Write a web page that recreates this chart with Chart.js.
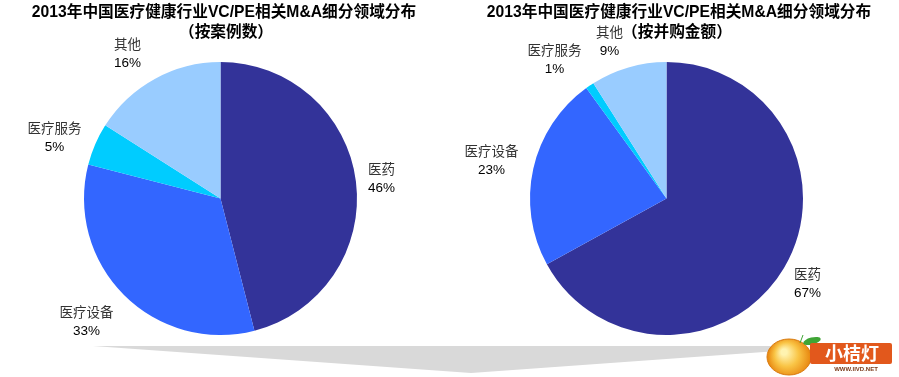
<!DOCTYPE html>
<html>
<head>
<meta charset="utf-8">
<script src="https://cdn.jsdelivr.net/npm/chart.js@4.4.0/dist/chart.umd.min.js"></script>
<style>
  html, body { margin: 0; padding: 0; background: #fff; }
  #wrap { position: relative; width: 899px; height: 377px; overflow: hidden; }
  #deco { position: absolute; left: 0; top: 0; }
  .half { position: absolute; top: 0; width: 449px; height: 377px; }
  #leftBox { left: 0; }
  #rightBox { left: 450px; }
</style>
</head>
<body>
<div id="wrap">
  <canvas id="deco" width="899" height="377"></canvas>
  <div class="half" id="leftBox"><canvas id="countChart"></canvas></div>
  <div class="half" id="rightBox"><canvas id="valueChart"></canvas></div>
</div>
<script>
// Data
const segments = ['医药', '医疗设备', '医疗服务', '其他'];
const shareByCount = [46, 33, 5, 16];   // 按案例数 (%)
const shareByValue = [67, 23, 1, 9];    // 按并购金额 (%)
const mainTitle = '2013年中国医疗健康行业VC/PE相关M&A细分领域分布';
const subTitleCount = '（按案例数）';
const subTitleValue = '（按并购金额）';

const sliceColors = ['#333399', '#3366FF', '#00CCFF', '#99CCFF'];
const FONT = '"Liberation Sans", Arial, "Noto Sans CJK SC", sans-serif';

// label anchor offsets from pie centre, per segment (layout only)
const countLabelOffsets = [[161, -19], [-134, 124], [-166, -60], [-93, -144]];
const valueLabelOffsets = [[141, 86], [-175, -37], [-112, -138], [-57, -156]];

// Titles + outer labels, drawn on the chart canvas
const pieLabels = {
    id: 'pieLabels',
    afterDraw(chart, args, opts) {
        const ctx = chart.ctx;
        const arc = chart.getDatasetMeta(0).data[0];
        const cx = arc.x, cy = arc.y;
        const values = chart.data.datasets[0].data;
        ctx.save();
        ctx.textAlign = 'center';
        ctx.textBaseline = 'middle';
        // titles
        ctx.fillStyle = '#000';
        ctx.font = 'bold 15.7px ' + FONT;
        ctx.fillText(mainTitle, opts.titleX, 13);
        ctx.fillText(opts.sub, opts.subX, 33);
        // labels
        ctx.font = '13.5px ' + FONT;
        chart.data.labels.forEach((name, i) => {
            const [dx, dy] = opts.offsets[i];
            ctx.fillStyle = '#333';
            ctx.fillText(name, cx + dx, cy + dy - 9);
            ctx.fillStyle = '#000';
            ctx.fillText(values[i] + '%', cx + dx, cy + dy + 9);
        });
        ctx.restore();
    }
};

function makePie(canvasId, values, padding, labelOpts) {
    const ctx = document.getElementById(canvasId);
    return new Chart(ctx, {
        type: 'pie',
        data: {
            labels: segments,
            datasets: [{
                data: values,
                backgroundColor: sliceColors,
                borderWidth: 0
            }]
        },
        options: {
            responsive: true,
            maintainAspectRatio: false,
            animation: false,
            layout: { padding: padding },
            plugins: {
                legend: { display: false },
                tooltip: { enabled: false },
                pieLabels: labelOpts
            }
        },
        plugins: [pieLabels]
    });
}

makePie('countChart', shareByCount,
    { top: 62, bottom: 42, left: 84, right: 92 },
    { titleX: 224, subX: 226, sub: subTitleCount, offsets: countLabelOffsets });

makePie('valueChart', shareByValue,
    { top: 62, bottom: 42, left: 80, right: 96 },
    { titleX: 229, subX: 227, sub: subTitleValue, offsets: valueLabelOffsets });

// Decoration: grey arrow band and the logo at the bottom
(function drawDeco() {
    const c = document.getElementById('deco').getContext('2d');
    c.fillStyle = '#D9D9D9';
    c.beginPath();
    c.moveTo(93, 346);
    c.lineTo(778, 346);
    c.lineTo(778, 351);
    c.lineTo(471, 373);
    c.closePath();
    c.fill();

    // orange ball
    const g = c.createRadialGradient(784, 352, 3, 789, 357, 21);
    g.addColorStop(0, '#FFF3B0');
    g.addColorStop(0.5, '#F9C445');
    g.addColorStop(1, '#E98A12');
    c.fillStyle = g;
    c.beginPath();
    c.ellipse(789, 357, 22, 18, 0, 0, Math.PI * 2);
    c.fill();
    c.strokeStyle = '#D87A10';
    c.lineWidth = 1;
    c.stroke();
    // leaf
    c.fillStyle = '#3FA535';
    c.beginPath();
    c.ellipse(812, 341, 9, 3.5, -0.25, 0, Math.PI * 2);
    c.fill();
    c.strokeStyle = '#3FA535';
    c.beginPath();
    c.moveTo(800, 343);
    c.lineTo(803, 335);
    c.stroke();
    // banner
    c.fillStyle = '#E2581C';
    c.beginPath();
    c.roundRect(810, 343, 82, 21, 2);
    c.fill();
    c.fillStyle = '#fff';
    c.textAlign = 'center';
    c.textBaseline = 'middle';
    c.font = 'bold 18px "Noto Sans CJK SC", sans-serif';
    c.fillText('小桔灯', 852, 353);
    c.fillStyle = '#7A3A1A';
    c.font = 'bold 6px "Liberation Sans", sans-serif';
    c.fillText('WWW.IIVD.NET', 856, 369);
})();
</script>
</body>
</html>
